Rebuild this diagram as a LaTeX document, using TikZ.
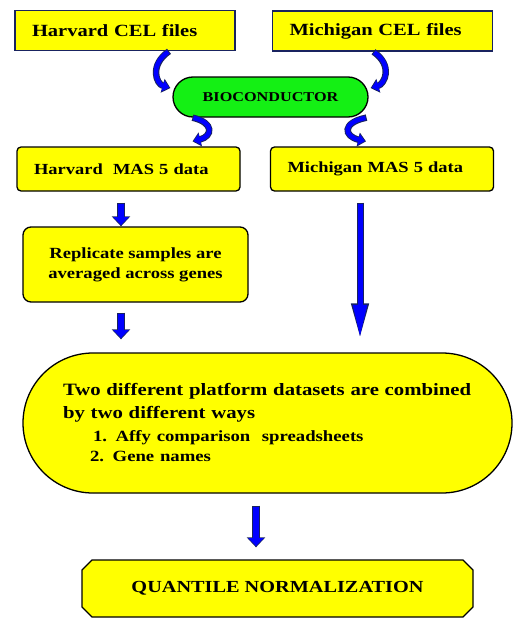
\documentclass[tikz,border=0pt]{standalone}
\usepackage{fontspec}
\setmainfont{Liberation Serif}[FakeStretch=1.2]
\usetikzlibrary{positioning,arrows.meta,shapes.misc}
\definecolor{navy}{RGB}{25,35,95}
\definecolor{boxyellow}{RGB}{255,255,0}
\definecolor{biogreen}{RGB}{20,240,20}
\newcommand{\fsz}[2]{\fontsize{#1}{#2}\selectfont\bfseries}
\tikzset{
	filebox/.style={draw=navy, line width=1.6pt, fill=boxyellow, text width=186pt, inner xsep=17pt,
		align=left, minimum height=40pt, font=\fsz{17.1}{20}},
	databox/.style={draw=black, line width=1.3pt, fill=boxyellow, rounded corners=4pt, text width=189pt,
		inner xsep=17pt, align=left, minimum height=44pt, font=\fsz{15.4}{20}},
	blk/.style={draw=navy, line width=8pt, -{Triangle[length=10pt,width=18pt]},
		postaction={draw=blue, line width=6pt, -{Triangle[length=8pt,width=15pt]}, shorten >=1.3pt, shorten <=1pt}},
	curveblk/.style={draw=navy, line width=6.5pt, -{Triangle[length=8pt,width=14pt]},
		postaction={draw=blue, line width=4.5pt, -{Triangle[length=6.5pt,width=11pt]}, shorten >=1.2pt, shorten <=1pt}},
	longblk/.style={draw=navy, line width=7pt, -{Triangle[length=36pt,width=16pt]},
		postaction={draw=blue, line width=5pt, -{Triangle[length=33pt,width=13pt]}, shorten >=1.5pt, shorten <=1pt}}
}

\begin{document}
\begin{tikzpicture}[x=1pt, y=-1pt]
	\useasboundingbox (0,0) rectangle (513,618);
	
	\node[filebox] (hcel) at (125,30.5) {Harvard CEL files};
	\node[filebox] (mcel) at (382.5,31) {Michigan CEL files};
	\node[rounded rectangle, draw=black, line width=1.3pt, fill=biogreen, minimum width=195pt, minimum height=40pt,
		inner sep=0pt, font=\fsz{13.5}{16}] (bio) at (270.5,97) {BIOCONDUCTOR};
	\node[databox] (hmas) at (128.5,169) {Harvard\ \ MAS 5 data};
	\node[databox] (mmas) at (382,169) {Michigan MAS 5 data};
	\node[draw=black, line width=1.3pt, fill=boxyellow, rounded corners=8pt, minimum width=225pt, minimum height=75pt,
		align=center, font=\fsz{15.5}{20}] (rep) at (135.5,264.5) {Replicate samples are\\averaged across genes};
	\node[rounded rectangle, draw=black, line width=1.3pt, fill=boxyellow, minimum width=489pt, minimum height=140pt,
		inner sep=0pt, text width=409pt, align=left, font=\fsz{17.3}{23}] (comb) at (267.5,423)
		{Two different platform datasets are combined\\by two different ways\\
			{\fsz{15.6}{20}\hspace*{30pt}1. Affy comparison\ \ spreadsheets}\\[-3pt]
			{\fsz{15.6}{20}\hspace*{27pt}2. Gene names}};
	\node[chamfered rectangle, chamfered rectangle xsep=14pt, draw=black, line width=1.3pt, fill=boxyellow,
		minimum width=391pt, minimum height=57pt, inner sep=0pt, font=\fsz{16.9}{20}] (qn) at (277.5,588.5)
		{QUANTILE NORMALIZATION};
	
	% curved arrows through bioconductor
	\draw[curveblk] ([xshift=44pt]hcel.south) .. controls +(-20,14) and +(-14,-4) .. ([xshift=-2pt,yshift=9pt]bio.west);
	\draw[curveblk] ([xshift=-9pt]mcel.south) .. controls +(20,14) and +(14,-4) .. ([xshift=2pt,yshift=9pt]bio.east);
	\draw[curveblk] ([xshift=-78pt]bio.south) .. controls +(22,5) and +(20,-5) .. ([xshift=64pt,yshift=5pt]hmas.north);
	\draw[curveblk] ([xshift=96pt]bio.south) .. controls +(-25,5) and +(-22,-5) .. ([xshift=-16pt,yshift=5pt]mmas.north);
	
	\draw[blk] ([xshift=-7.5pt,yshift=-11pt]hmas.south) -- ([xshift=-14.5pt]rep.north);
	\draw[blk] ([xshift=-14.5pt,yshift=-10pt]rep.south) -- ([xshift=-146.5pt,yshift=13pt]comb.north);
	\draw[longblk] ([xshift=-22pt,yshift=-11pt]mmas.south) -- ([xshift=92.5pt,yshift=13pt]comb.north);
	\draw[blk] ([xshift=-11.5pt,yshift=-12pt]comb.south) -- ([xshift=-21.5pt,yshift=12pt]qn.north);
\end{tikzpicture}
\end{document}
